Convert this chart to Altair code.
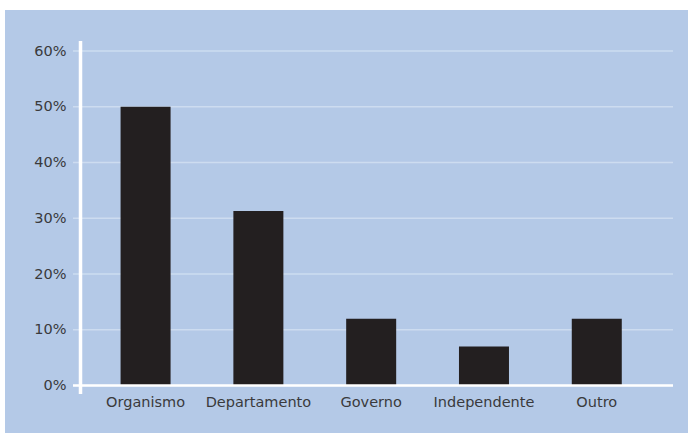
import altair as alt
import pandas as pd

categories = ["Organismo", "Departamento", "Governo", "Independente", "Outro"]
values = [50, 31.3, 12, 7, 12]
tick_values = [0, 10, 20, 30, 40, 50, 60]

W, H = 593, 353
BLUE = "#b4c9e7"
GRID = "#cddcf0"
BAR = "#231f20"
TEXT = "#3a3a3c"
FONT = "DejaVu Sans"

bars_df = pd.DataFrame({"cat": categories, "val": values})
ticks_df = pd.DataFrame({"v": tick_values})
one = pd.DataFrame({"a": [0]})

yscale = alt.Scale(domain=[-1.52, 61.8], nice=False, zero=False)
xscale = alt.Scale(paddingInner=0.5567, paddingOuter=0.4069, align=0.442)

yaxis = alt.Axis(values=tick_values, labelExpr="datum.value + '%'", grid=False,
                 ticks=False, domain=False, labelPadding=14, labelFontSize=14.5,
                 labelColor=TEXT, labelFont=FONT, title=None, zindex=1)
xaxis = alt.Axis(title=None, ticks=False, domain=False, labelAngle=0, labelPadding=1,
                 labelFontSize=14.5, labelColor=TEXT, labelFont=FONT, zindex=1)

bg = alt.Chart(one).mark_rect(color=BLUE).encode(
    x=alt.value(-75), x2=alt.value(W + 30), y=alt.value(-31), y2=alt.value(H + 50)
)

grid = alt.Chart(ticks_df).mark_rule(color=GRID, strokeWidth=1.5).encode(
    y=alt.Y("v:Q", scale=yscale, axis=yaxis),
    x=alt.value(-7), x2=alt.value(W),
)

bars = alt.Chart(bars_df).mark_bar(color=BAR).encode(
    x=alt.X("cat:N", sort=categories, scale=xscale, axis=xaxis),
    y=alt.Y("val:Q", scale=yscale, axis=yaxis),
    y2=alt.Y2Datum(0),
)

x_line = alt.Chart(one).mark_rule(color="white", strokeWidth=2.5).encode(
    x=alt.value(-7), x2=alt.value(W), y=alt.YDatum(0, type="quantitative", scale=yscale, axis=yaxis)
)

y_line = alt.Chart(one).mark_rule(color="white", strokeWidth=3.5).encode(
    x=alt.value(0.5), y=alt.value(0), y2=alt.value(H)
)

chart = alt.layer(bg, grid, bars, x_line, y_line).properties(
    width=W, height=H,
    autosize=alt.AutoSizeParams(type="none"),
    padding={"left": 80, "top": 41, "right": 15, "bottom": 39},
    background="white",
).configure_view(strokeWidth=0)

chart.save("out.html", embed_options={"renderer": "svg", "actions": False})
